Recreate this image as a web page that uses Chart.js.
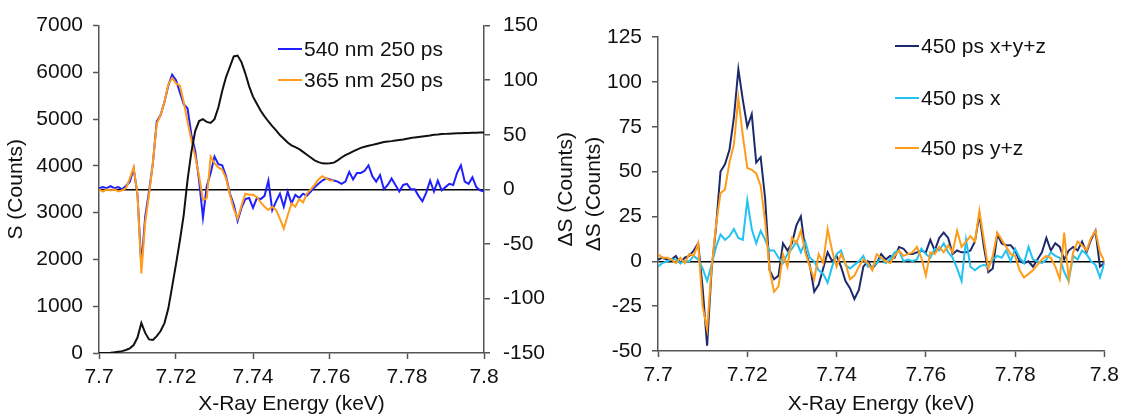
<!DOCTYPE html>
<html>
<head>
<meta charset="utf-8">
<script src="https://cdn.jsdelivr.net/npm/chart.js@4.4.1/dist/chart.umd.min.js"></script>
<style>
  html, body { margin: 0; padding: 0; background: #fff; overflow: hidden; }
  body { width: 1125px; height: 415px; position: relative; font-family: "Liberation Sans", Arial, sans-serif; }
  canvas { position: absolute; top: 0; }
  #left { left: 0; }
  #right { left: 580px; }
  .leg { position: absolute; display: flex; align-items: center; height: 24px; font-size: 21px; color: #111; white-space: nowrap; }
  .leg span.sw { display: inline-block; width: 24px; height: 2px; margin-right: 2px; }
</style>
</head>
<body>
<canvas id="left" width="580" height="417"></canvas>
<canvas id="right" width="545" height="417"></canvas>
<div id="legends"></div>
<script>
// energy grid (keV)
const energy = [7.700, 7.701, 7.702, 7.703, 7.704, 7.705, 7.706, 7.707, 7.708, 7.709,
  7.710, 7.711, 7.712, 7.713, 7.714, 7.715, 7.716, 7.717, 7.718, 7.719,
  7.720, 7.721, 7.722, 7.723, 7.724, 7.725, 7.726, 7.727, 7.728, 7.729,
  7.730, 7.731, 7.732, 7.733, 7.734, 7.735, 7.736, 7.737, 7.738, 7.739,
  7.740, 7.741, 7.742, 7.743, 7.744, 7.745, 7.746, 7.747, 7.748, 7.749,
  7.750, 7.751, 7.752, 7.753, 7.754, 7.755, 7.756, 7.757, 7.758, 7.759,
  7.760, 7.761, 7.762, 7.763, 7.764, 7.765, 7.766, 7.767, 7.768, 7.769,
  7.770, 7.771, 7.772, 7.773, 7.774, 7.775, 7.776, 7.777, 7.778, 7.779,
  7.780, 7.781, 7.782, 7.783, 7.784, 7.785, 7.786, 7.787, 7.788, 7.789,
  7.790, 7.791, 7.792, 7.793, 7.794, 7.795, 7.796, 7.797, 7.798, 7.799, 7.800];

// left panel: ground state spectrum S (left axis)
const sCounts = [0, 0, 0, 5, 15, 28, 40, 65, 100, 170,
  330, 640, 430, 290, 280, 360, 470, 640, 950, 1420,
  1900, 2400, 2950, 3700, 4300, 4750, 4960, 5000, 4940, 4920,
  5000, 5250, 5600, 5900, 6120, 6340, 6360, 6220, 5980, 5700,
  5480, 5330, 5180, 5060, 4950, 4850, 4760, 4660, 4580, 4500,
  4440, 4400, 4360, 4300, 4240, 4180, 4120, 4080, 4055, 4050,
  4055, 4070, 4120, 4180, 4230, 4270, 4310, 4350, 4385, 4410,
  4430, 4450, 4470, 4490, 4510, 4520, 4530, 4545, 4555, 4565,
  4580, 4595, 4610, 4620, 4630, 4640, 4650, 4665, 4670, 4680,
  4685, 4690, 4695, 4700, 4700, 4705, 4705, 4710, 4710, 4712, 4715];

// left panel: difference signals (right axis)
const ds540 = [1, 2, 1, 3, 1, 2, 0, 3, 7, 19,
  -5, -70, -25, -2, 24, 62, 68, 80, 95, 105,
  100, 89, 78, 74, 50, 35, 8, -26, 3, 15,
  30, 23, 22, 12, -4, -14, -29, -17, -9, -8,
  -17, -8, -9, -6, 8, -19, -11, -4, -16, -2,
  -13, -5, -8, -4, -6, -2, 2, 5, 8, 10,
  9, 8, 7, 5, 7, 16, 9, 15, 15, 17,
  22, 12, 7, 13, 0, 4, 10, 4, -2, 4,
  5, 0, 0, -6, -11, -3, 8, -2, 8, -1,
  2, 5, 4, 15, 22, 7, 5, 11, 2, -1, -2];

const ds365 = [0, -2, 0, -1, 0, -2, -1, 1, 10, 20,
  -5, -77, -30, -5, 25, 60, 68, 80, 96, 102,
  97, 95, 80, 62, 45, 30, 12, -10, -8, 30,
  24, 20, 18, 10, -5, -18, -27, -15, -4, -5,
  -5, -7, -12, -16, -19, -16, -19, -27, -36, -24,
  -13, -16, -9, -12, -4, 0, 4, 9, 12, 10,
  8, 8];

// right panel: 450 ps difference signals
const dsXYZ = [1, 2, 1, 1, 3, -1, 2, 3, 6, 10,
  -15, -47, -5, 19, 50, 54, 62, 80, 107, 90,
  75, 82, 55, 58, 35, -5, -10, -8, 10, 6,
  10, 20, 25, 6, -2, -17, -13, -4, 5, 0,
  3, -3, -11, -15, -21, -16, -3, 0, -4, -1,
  4, 1, 3, 2, 8, 7, 4, 4, 5, 6,
  5, 12, 6, 13, 16, 13, 4, 6, 5, 5,
  6, 11, 26, 8, -6, -4, 15, 10, 9, 9,
  6, 0, -1, 0, -3, 1, 5, 13, 6, 10,
  8, 1, 6, 8, 6, 11, 5, 12, 17, -3, -1];

const dsX = [-3, -1, 0, 1, 1, -1, 0, 0, 3, 1,
  -4, -11, -2, 8, 15, 12, 14, 18, 13, 12,
  34, 18, 10, 17, 12, 6, 6, 2, -1, 4,
  7, 11, 5, 11, 2, 0, -5, -7, -12, -3,
  4, 6, -2, -4, -2, 0, 3, -3, -3, -1,
  2, -1, 1, 5, 6, 0, 1, 0, 1, 7,
  4, 2, 7, 6, 10, 5, 2, -4, -11, 12,
  -3, -5, -3, -2, -3, 1, 3, 2, 6, 0,
  7, 2, -1, 8, 1, 0, -1, 1, 5, 3,
  2, -6, -11, 3, 1, 6, 4, 0, -2, -9, -1];

const dsYZ = [4, 2, 2, 1, -1, 2, -1, 4, 3, 10,
  -25, -38, -4, 20, 38, 40, 55, 65, 91, 70,
  52, 51, 49, 42, 22, -5, -17, -14, 4, -3,
  13, 10, 17, 5, -3, -10, 4, -1, 18, 6,
  -3, 4, -1, -10, -8, -3, 1, -1, -5, 4,
  2, 0, -1, 3, 6, 3, 4, 5, 8, 2,
  -8, 5, 4, 8, 5, 9, 5, 17, 8, 11,
  14, 11, 28, 12, -4, 3, 16, 12, 8, 4,
  3, -5, -9, -7, -5, -2, 1, 3, 2, -3,
  -10, 16, -10, 5, 11, 9, 6, 13, 17, 5, 0];

// axis ticks
const xTicks = [7.7, 7.72, 7.74, 7.76, 7.78, 7.8];
const sTicks = [0, 1000, 2000, 3000, 4000, 5000, 6000, 7000];
const dsLeftTicks = [-150, -100, -50, 0, 50, 100, 150];
const dsRightTicks = [-50, -25, 0, 25, 50, 75, 100, 125];

const FONT = '"Liberation Sans", Arial, sans-serif';
const TXT = '#111';
const AXIS = '#555';
const TICK_FONT = { family: FONT, size: 21 };
const TITLE_FONT = { family: FONT, size: 21 };

function pts(vals) {
  return vals.map((v, i) => ({ x: energy[i], y: v }));
}
function setTicks(list) {
  return function(scale) { scale.ticks = list.map(v => ({ value: v })); };
}
function zeroLine(ctx) {
  return ctx.tick && ctx.tick.value === 0 ? '#000' : 'rgba(0,0,0,0)';
}
const plain = v => String(v);

function xAxis(height) {
  return {
    type: 'linear', min: 7.7, max: 7.8,
    afterBuildTicks: setTicks(xTicks),
    afterFit: s => { s.height = height; },
    ticks: { font: TICK_FONT, color: TXT, padding: 6, callback: plain, maxRotation: 0 },
    grid: { drawOnChartArea: false, tickLength: 6, tickColor: AXIS, tickWidth: 1.5 },
    border: { color: AXIS, width: 1.5 },
    title: { display: true, text: 'X-Ray Energy (keV)', font: TITLE_FONT, color: TXT, padding: 0 }
  };
}

// rotated title for the secondary axis of the left panel
const dsTitle = {
  id: 'dsTitle',
  afterDraw(chart) {
    const { ctx, chartArea } = chart;
    ctx.save();
    ctx.translate(chartArea.right + 82, (chartArea.top + chartArea.bottom) / 2);
    ctx.rotate(-Math.PI / 2);
    ctx.font = '21px ' + FONT;
    ctx.fillStyle = TXT;
    ctx.textAlign = 'center';
    ctx.textBaseline = 'middle';
    ctx.fillText('ΔS (Counts)', 0, 0);
    ctx.restore();
  }
};

const leftSeries = [
  { label: '540 nm 250 ps', color: '#1f1fff', data: ds540 },
  { label: '365 nm 250 ps', color: '#ff9c1a', data: ds365 }
];
const rightSeries = [
  { label: '450 ps x+y+z', color: '#1c2a6b', data: dsXYZ },
  { label: '450 ps x', color: '#22c2f2', data: dsX },
  { label: '450 ps y+z', color: '#ff9c1a', data: dsYZ }
];

const common = {
  responsive: false,
  animation: false,
  devicePixelRatio: 1,
  elements: { point: { radius: 0 }, line: { tension: 0, borderWidth: 2 } },
  plugins: { legend: { display: false }, tooltip: { enabled: false } }
};

new Chart(document.getElementById('left'), {
  type: 'line',
  data: {
    datasets: [
      { label: 'S', data: pts(sCounts), borderColor: '#111', yAxisID: 'y', order: 0, borderWidth: 2 },
      ...leftSeries.map((s, i) => ({ label: s.label, data: pts(s.data), borderColor: s.color, yAxisID: 'y1', order: 2 - i }))
    ]
  },
  options: {
    ...common,
    layout: { padding: { top: 23, left: 0, right: 0, bottom: 0 } },
    scales: {
      x: xAxis(64),
      y: {
        position: 'left', min: 0, max: 7000,
        afterBuildTicks: setTicks(sTicks),
        afterFit: s => { s.width = 99; },
        ticks: { font: TICK_FONT, color: TXT, padding: 10, callback: plain },
        grid: { drawOnChartArea: false, tickLength: 6, tickColor: AXIS, tickWidth: 1.5 },
        border: { color: AXIS, width: 1.5 },
        title: { display: true, text: 'S (Counts)', font: TITLE_FONT, color: TXT, padding: 4 }
      },
      y1: {
        position: 'right', min: -150, max: 150,
        afterBuildTicks: setTicks(dsLeftTicks),
        afterFit: s => { s.width = 96; },
        ticks: { font: TICK_FONT, color: TXT, padding: 13, callback: plain },
        grid: { drawOnChartArea: true, color: zeroLine, lineWidth: 1.5, tickLength: 6, tickColor: AXIS, tickWidth: 1.5 },
        border: { color: AXIS, width: 1.5 }
      }
    }
  },
  plugins: [dsTitle]
});

new Chart(document.getElementById('right'), {
  type: 'line',
  data: {
    datasets: rightSeries.map((s, i) => ({ label: s.label, data: pts(s.data), borderColor: s.color, order: 3 - i }))
  },
  options: {
    ...common,
    layout: { padding: { top: 37, left: 0, right: 17, bottom: 0 } },
    scales: {
      x: xAxis(66),
      y: {
        position: 'left', min: -50, max: 125,
        afterBuildTicks: setTicks(dsRightTicks),
        afterFit: s => { s.width = 78; },
        ticks: { font: TICK_FONT, color: TXT, padding: 10, callback: plain },
        grid: { drawOnChartArea: true, color: zeroLine, lineWidth: 1.5, tickLength: 6, tickColor: AXIS, tickWidth: 1.5 },
        border: { color: AXIS, width: 1.5 },
        title: { display: true, text: 'ΔS (Counts)', font: TITLE_FONT, color: TXT, padding: 2 }
      }
    }
  }
});

// legends, built from the series lists
function addLegend(series, x, ys) {
  const box = document.getElementById('legends');
  series.forEach((s, i) => {
    const d = document.createElement('div');
    d.className = 'leg';
    d.style.left = x + 'px';
    d.style.top = (ys[i] - 12) + 'px';
    d.innerHTML = '<span class="sw" style="background:' + s.color + '"></span>' + s.label;
    box.appendChild(d);
  });
}
addLegend(leftSeries, 278, [49, 80]);
addLegend(rightSeries, 895, [46, 98, 148]);
</script>
</body>
</html>
